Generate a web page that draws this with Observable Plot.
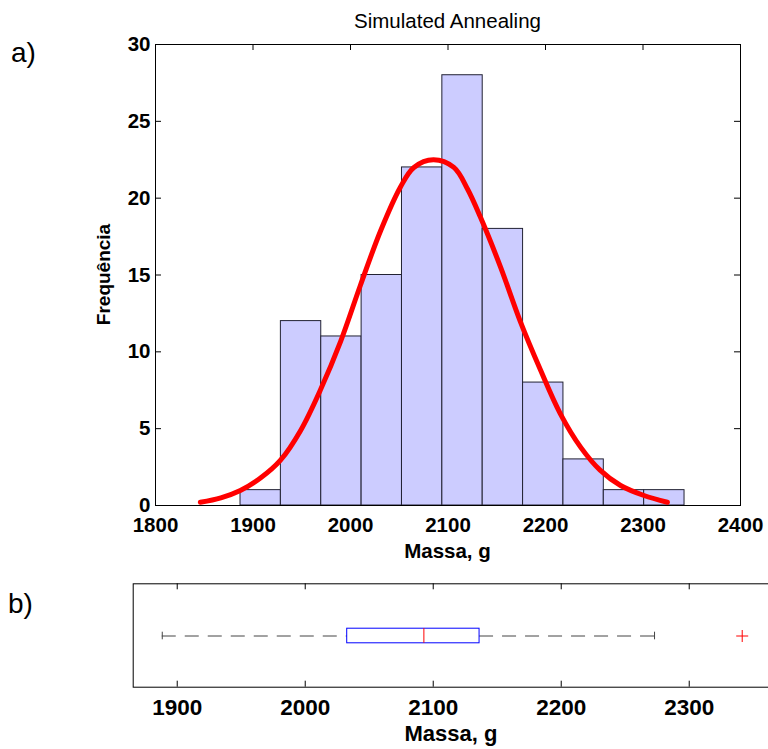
<!DOCTYPE html>
<html>
<head>
<meta charset="utf-8">
<script src="https://cdn.jsdelivr.net/npm/d3@7"></script>
<script src="https://cdn.jsdelivr.net/npm/@observablehq/plot@0.6"></script>
<style>
  html, body { margin: 0; padding: 0; background: #fff; overflow: hidden; }
  #wrap { position: relative; width: 768px; height: 749px; overflow: hidden; }
  #wrap svg { display: block; max-width: none !important; }
</style>
</head>
<body>
<div id="wrap"></div>
<script>
// ---------- data ----------
const binEdges = [1887.2, 1928.6, 1970.0, 2011.4, 2052.8, 2094.2, 2135.6, 2177.0, 2218.4, 2259.8, 2301.2, 2342.6];
const counts   = [1, 12, 11, 15, 22, 28, 18, 8, 3, 1, 1];

const fitX = [1846, 1867, 1887, 1908, 1928, 1949, 1969, 1990, 2010, 2031, 2051, 2065, 2085, 2106, 2120, 2133, 2154, 2174, 2195, 2215, 2236, 2256, 2277, 2301, 2325];
const fitY = [0.21, 0.5, 0.98, 1.8, 2.93, 4.9, 7.5, 10.7, 14.3, 17.9, 20.7, 22.0, 22.5, 22.0, 20.6, 18.8, 15.5, 12.0, 8.8, 6.0, 3.8, 2.3, 1.3, 0.65, 0.21];

const xTicks   = [1800, 1900, 2000, 2100, 2200, 2300, 2400];
const yTicks   = [0, 5, 10, 15, 20, 25, 30];
const boxTicks = [1900, 2000, 2100, 2200, 2300];

// boxplot: min whisker, q1, median, q3, max whisker
const boxStats = [1888.3, 2032.8, 2092.7, 2136.2, 2272.9];
const outliers = [2341.4];

const titleText = "Simulated Annealing";
const xLabel = "Massa, g";
const yLabel = "Frequência";

// ---------- derived tables ----------
const bins = counts.map((c, i) => ({x1: binEdges[i], x2: binEdges[i + 1], y: c}));
const fit = fitX.map((x, i) => ({x, y: fitY[i]}));
const [wMin, q1, med, q3, wMax] = boxStats;
const cat = "Massa";

const FONT = "'Liberation Sans', Arial, Helvetica, sans-serif";
const wrap = document.getElementById("wrap");

function addText(sel, {x, y, text, size, weight = "normal", anchor = "start", transform = null}) {
  const t = sel.append("text")
    .attr("text-anchor", anchor)
    .attr("font-family", FONT).attr("font-size", size).attr("font-weight", weight)
    .attr("fill", "black").text(text);
  if (transform) t.attr("transform", transform); else t.attr("x", x).attr("y", y);
  return t;
}

// ---------- panel a) histogram ----------
const W1 = 768, H1 = 565, mt1 = 44, ml1 = 155, mr1 = 28, mb1 = 60;
const iw1 = W1 - ml1 - mr1, ih1 = H1 - mt1 - mb1;
const TL = 6;

const p1 = Plot.plot({
  width: W1, height: H1,
  marginTop: mt1, marginLeft: ml1, marginRight: mr1, marginBottom: mb1,
  style: {fontFamily: FONT, fontSize: "20.5px", fontWeight: "bold", color: "black", background: "white", overflow: "visible", maxWidth: "none"},
  x: {domain: [1800, 2400], ticks: xTicks, tickSize: 0, tickPadding: 12, tickFormat: d => String(d), label: null},
  y: {domain: [0, 30], ticks: yTicks, tickSize: 0, tickPadding: 5, tickFormat: d => String(d), label: null},
  marks: [
    Plot.tickX(xTicks, {x: d => d, insetTop: ih1 - TL, stroke: "black"}),
    Plot.tickX(xTicks, {x: d => d, insetBottom: ih1 - TL, stroke: "black"}),
    Plot.tickY(yTicks, {y: d => d, insetRight: iw1 - TL, stroke: "black"}),
    Plot.tickY(yTicks, {y: d => d, insetLeft: iw1 - TL, stroke: "black"}),
    Plot.rect(bins, {x1: "x1", x2: "x2", y1: 0, y2: "y", fill: "#ccccff", stroke: "#222233", strokeWidth: 1}),
    Plot.line(fit, {x: "x", y: "y", stroke: "#ff0000", strokeWidth: 5, curve: "catmull-rom"}),
    Plot.frame({stroke: "black"})
  ]
});
wrap.appendChild(p1);

const s1 = d3.select(p1);
addText(s1, {x: ml1 + iw1 / 2, y: 28, text: titleText, size: 20.5, anchor: "middle"});
addText(s1, {x: 11, y: 62, text: "a)", size: 28});
addText(s1, {x: ml1 + iw1 / 2, y: 558, text: xLabel, size: 20.5, weight: "bold", anchor: "middle"});
addText(s1, {text: yLabel, size: 19, weight: "bold", anchor: "middle",
             transform: `translate(110,${mt1 + ih1 / 2}) rotate(-90)`});

// ---------- panel b) boxplot ----------
const W2 = 772, H2 = 749 - H1, mt2 = 18.3, ml2 = 132.7, mr2 = 2, mb2 = 62.3;
const ih2 = H2 - mt2 - mb2;
const boxH = 15, capH = 8;

const plusSymbol = {
  draw(ctx, size) {
    const r = Math.sqrt(size / Math.PI);
    ctx.moveTo(-r, 0); ctx.lineTo(r, 0);
    ctx.moveTo(0, -r); ctx.lineTo(0, r);
  }
};

const p2 = Plot.plot({
  width: W2, height: H2,
  marginTop: mt2, marginLeft: ml2, marginRight: mr2, marginBottom: mb2,
  style: {fontFamily: FONT, fontSize: "22.5px", fontWeight: "bold", color: "black", background: "white", overflow: "visible", maxWidth: "none"},
  x: {domain: [1865.6, 2363.5], ticks: boxTicks, tickSize: 0, tickPadding: 11.6, tickFormat: d => String(d), label: null},
  y: {type: "band", domain: [cat], padding: 0, axis: null},
  marks: [
    Plot.tickX(boxTicks, {x: d => d, insetTop: ih2 - TL, stroke: "black"}),
    Plot.tickX(boxTicks, {x: d => d, insetBottom: ih2 - TL, stroke: "black"}),
    Plot.ruleY([{a: wMin, b: q1}, {a: q3, b: wMax}], {y: () => cat, x1: "a", x2: "b", stroke: "#444", strokeWidth: 1, strokeDasharray: "14,9"}),
    Plot.tickX([wMin, wMax], {x: d => d, y: () => cat, insetTop: (ih2 - capH) / 2, insetBottom: (ih2 - capH) / 2, stroke: "#444"}),
    Plot.barX([{a: q1, b: q3}], {x1: "a", x2: "b", y: () => cat, insetTop: (ih2 - boxH) / 2, insetBottom: (ih2 - boxH) / 2, fill: "none", stroke: "#0000ff", strokeWidth: 1}),
    Plot.tickX([med], {x: d => d, y: () => cat, insetTop: (ih2 - boxH) / 2, insetBottom: (ih2 - boxH) / 2, stroke: "#ff0000"}),
    Plot.dot(outliers, {x: d => d, y: () => cat, symbol: plusSymbol, r: 6, stroke: "#ff0000", fill: "none", strokeWidth: 1}),
    Plot.frame({stroke: "black"})
  ]
});
wrap.appendChild(p2);

const s2 = d3.select(p2);
addText(s2, {x: 8, y: 613 - H1, text: "b)", size: 28});
addText(s2, {x: 451, y: 740.5 - H1, text: xLabel, size: 22, weight: "bold", anchor: "middle"});
</script>
</body>
</html>
